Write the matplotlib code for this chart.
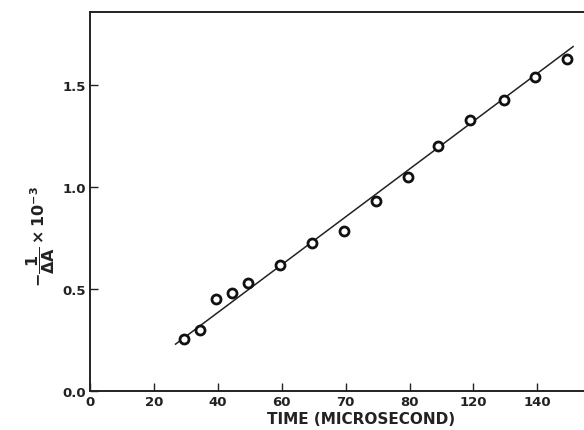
import numpy as np
import matplotlib as mpl

mpl.use("Agg")
from matplotlib import pyplot as plt

# tick positions along the time axis and their (printed) labels
tick_pos = [0, 1, 2, 3, 4, 5, 6, 7]
tick_labels = ['0', '20', '40', '60', '70', '80', '120', '140']

# measured points, x in tick units as drawn on the original
x_pts = [1.47, 1.72, 1.97, 2.22, 2.47, 2.98, 3.47, 3.97, 4.47, 4.97, 5.45, 5.94, 6.48, 6.97, 7.47]
y_pts = [0.255, 0.30, 0.45, 0.48, 0.53, 0.62, 0.725, 0.785, 0.93, 1.05, 1.20, 1.33, 1.43, 1.54, 1.63]

# fitted line end points
x_fit = [1.34, 7.56]
y_fit = [0.23, 1.69]

y_ticks = [0.0, 0.5, 1.0, 1.5]

plt.rcParams['font.family'] = ['DejaVu Sans']
plt.rcParams['font.weight'] = 'bold'
plt.rcParams['mathtext.default'] = 'bf'

f = plt.figure(figsize=(5.84, 4.31), dpi=100)
ax = f.add_axes([0.154, 0.0905, 0.846, 0.8795])

ax.plot(x_fit, y_fit, color='#222222', lw=1.1)
ax.plot(x_pts, y_pts, 'o', mfc='white', mec='#111111', mew=2.0, ms=6.5, zorder=3)

ax.set_xlim(0, 7.73)
ax.set_ylim(0, 1.86)
ax.set_xticks(tick_pos)
ax.set_xticklabels(tick_labels)
ax.set_yticks(y_ticks)
ax.set_yticklabels(['0.0', '0.5', '1.0', '1.5'])

ax.tick_params(direction='in', length=6, width=1.0, labelsize=9.5, colors='#222222')
ax.tick_params(axis='x', pad=3)
ax.tick_params(axis='y', pad=3)

for s in ['left', 'bottom', 'top']:
    ax.spines[s].set_linewidth(1.4)
    ax.spines[s].set_color('#222222')
ax.spines['right'].set_visible(False)

ax.set_xlabel('TIME (MICROSECOND)', fontsize=11, fontweight='bold', color='#222222')
ax.xaxis.set_label_coords(0.549, -0.052)
ax.set_ylabel(r'$-\dfrac{1}{\Delta A}\times 10^{-3}$', fontsize=11.5, color='#222222')
ax.yaxis.set_label_coords(-0.067, 0.41)

f.savefig('out.png', dpi=100)
